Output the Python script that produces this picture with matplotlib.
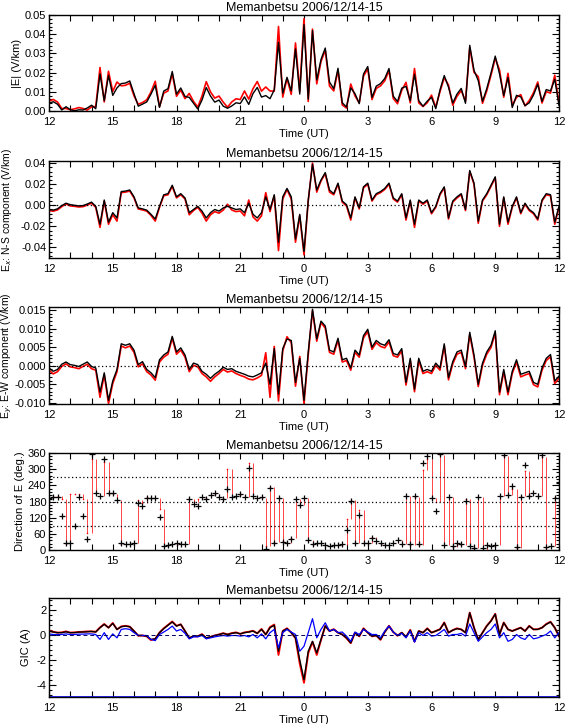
import numpy as np
import matplotlib
matplotlib.use('Agg')
import matplotlib.pyplot as plt
from matplotlib.ticker import MultipleLocator, AutoMinorLocator, FormatStrFormatter

plt.rcParams['axes.unicode_minus'] = False
plt.rcParams['font.family'] = ['Liberation Sans', 'DejaVu Sans']

title = 'Memanbetsu 2006/12/14-15'

# time axis: hours from 12 UT on 12/14 (36 = 12 UT on 12/15), 12-minute samples
t = np.linspace(12, 36, 121)
tick_hours = [12, 15, 18, 21, 24, 27, 30, 33, 36]
tick_labels = ['12', '15', '18', '21', '0', '3', '6', '9', '12']

# Ex (N-S), V/km
ex_black = [-0.004, -0.0046, -0.0034, -0.0003, 0.002, 0.0006, 0.0, -0.0006, -0.0003, 0.0012,
            0.003, -0.001, -0.018, 0.005, -0.016, -0.007, -0.012, 0.013, 0.0135, 0.0145,
            0.008, -0.0025, -0.0034, -0.0046, -0.0086, -0.013, -0.001, 0.010, 0.011, 0.019,
            0.008, 0.011, 0.007, -0.007, -0.004, -0.001, -0.0055, -0.012, -0.007, -0.004,
            -0.0055, -0.0025, -0.001, -0.0025, -0.004, -0.0034, -0.007, 0.002, -0.0086, -0.012,
            -0.007, 0.008, -0.004, 0.010, -0.035, 0.008, 0.016, 0.008, -0.032, -0.0086,
            -0.044, 0.005, 0.039, 0.0145, 0.024, 0.031, 0.0145, 0.011, 0.021, 0.004,
            0.0006, -0.012, 0.008, -0.0025, 0.0175, 0.021, 0.005, 0.011, 0.013, 0.016,
            0.021, 0.007, 0.004, 0.011, -0.012, 0.005, -0.018, 0.005, 0.002, 0.005,
            -0.007, -0.001, 0.011, 0.0175, -0.012, 0.004, 0.008, 0.011, -0.004, 0.033,
            0.021, -0.015, 0.005, 0.011, 0.019, 0.027, -0.018, 0.008, -0.016, -0.001,
            0.008, -0.007, 0.002, -0.004, -0.007, -0.013, 0.005, 0.011, 0.010, -0.016,
            -0.001]
ex_red = [-0.005, -0.0056, -0.0044, -0.0013, 0.0012, -0.0006, -0.001, -0.0016, -0.0013, 0.0002,
          0.002, -0.002, -0.021, 0.004, -0.018, -0.009, -0.015, 0.012, 0.0125, 0.0135,
          0.007, -0.0035, -0.0044, -0.0056, -0.0096, -0.015, -0.002, 0.009, 0.010, 0.018,
          0.007, 0.010, 0.006, -0.009, -0.005, -0.002, -0.0075, -0.015, -0.009, -0.006,
          -0.0075, -0.0045, 0.001, -0.0045, -0.006, -0.0054, -0.010, 0.005, -0.011, -0.015,
          -0.010, 0.012, -0.006, 0.009, -0.043, 0.006, 0.015, 0.006, -0.035, -0.010,
          -0.047, 0.004, 0.040, 0.0125, 0.023, 0.030, 0.0125, 0.010, 0.020, 0.003,
          -0.0006, -0.014, 0.007, -0.0035, 0.0165, 0.020, 0.004, 0.010, 0.012, 0.015,
          0.020, 0.006, 0.003, 0.010, -0.014, 0.004, -0.021, 0.004, 0.001, 0.004,
          -0.008, -0.002, 0.010, 0.0165, -0.013, 0.003, 0.007, 0.010, -0.005, 0.032,
          0.020, -0.017, 0.004, 0.010, 0.018, 0.026, -0.020, 0.007, -0.018, -0.002,
          0.007, -0.008, 0.001, -0.005, -0.008, -0.014, 0.004, 0.010, 0.009, -0.018,
          -0.002]

# Ey (E-W), V/km
ey_black = [-0.0006, -0.0015, -0.001, 0.0004, 0.001, 0.0003, 0.0001, -0.0002, 0.0004, 0.001,
            -0.0002, -0.0006, -0.0071, -0.0019, -0.0093, -0.0041, -0.001, 0.0059, 0.0055, 0.0059,
            0.0042, 0.0003, 0.0011, -0.001, -0.0019, -0.0032, 0.0016, 0.0029, 0.0037, 0.0079,
            0.0037, 0.0048, 0.0029, -0.001, 0.0007, 0.0003, -0.0015, -0.0023, -0.0034, -0.0023,
            -0.0015, -0.0004, -0.001, -0.0008, -0.0015, -0.0019, -0.0023, -0.0028, -0.003, -0.0025,
            -0.0019, 0.0007, -0.005, 0.0046, -0.0076, 0.0046, 0.0072, 0.0068, -0.0045, 0.002,
            -0.0093, 0.0037, 0.0152, 0.0072, 0.012, 0.0107, 0.0042, 0.0037, 0.0074, 0.0016,
            0.002, -0.0006, 0.0042, 0.0029, 0.0081, 0.0098, 0.005, 0.0068, 0.0059, 0.0055,
            0.007, 0.0033, 0.0029, 0.0046, -0.0045, 0.002, -0.0063, 0.002, -0.0015, -0.001,
            -0.0015, 0.0007, -0.0006, 0.0059, -0.0032, 0.0011, 0.0037, 0.0042, -0.0002, 0.009,
            0.0029, -0.005, 0.0007, 0.0037, 0.0055, 0.0094, -0.0071, -0.001, -0.0071, -0.0015,
            0.0016, -0.0023, -0.0019, -0.0015, -0.0045, -0.005, -0.0006, 0.002, 0.003, -0.0041,
            -0.0028]
ey_red = [-0.0012, -0.0022, -0.0016, -0.0002, 0.0005, -0.0003, -0.0005, -0.0008, -0.0002, 0.0004,
          -0.0008, -0.0012, -0.0085, -0.0025, -0.0102, -0.0048, -0.0016, 0.0053, 0.0048, 0.0053,
          0.0036, -0.0003, 0.0005, -0.0016, -0.0025, -0.0039, 0.001, 0.0023, 0.0031, 0.0074,
          0.0031, 0.0042, 0.0023, -0.0016, 0.0001, -0.0003, -0.0021, -0.003, -0.0042, -0.003,
          -0.0021, -0.001, -0.0017, -0.0014, -0.0021, -0.0026, -0.003, -0.0036, -0.0038, -0.0033,
          -0.0026, 0.0035, -0.0085, 0.0052, -0.0095, 0.004, 0.0078, 0.0062, -0.0055, 0.0025,
          -0.0102, 0.003, 0.0148, 0.0066, 0.0116, 0.0101, 0.0036, 0.0031, 0.0068, 0.001,
          0.0014, -0.0012, 0.0036, 0.0023, 0.0075, 0.0092, 0.0044, 0.0062, 0.0052, 0.0048,
          0.0064, 0.0027, 0.0023, 0.004, -0.0052, 0.0014, -0.007, 0.0014, -0.0021, -0.0016,
          -0.0021, 0.0001, -0.0012, 0.0053, -0.0038, 0.0005, 0.0031, 0.0036, -0.0008, 0.0084,
          0.0023, -0.0056, 0.0001, 0.0031, 0.0049, 0.0088, -0.0078, -0.0016, -0.0078, -0.0021,
          0.001, -0.003, -0.0025, -0.0021, -0.0051, -0.0057, -0.0012, 0.0014, 0.0024, -0.0048,
          -0.0034]

# GIC, A
gic_black = [0.33, 0.25, 0.2, 0.2, 0.27, 0.2, 0.2, 0.25, 0.25, 0.27,
             0.3, 0.25, 0.6, 0.87, 0.6, 0.95, 0.46, 0.68, 0.73, 0.68,
             0.33, -0.03, -0.03, -0.08, -0.35, -0.3, 0.2, 0.52, 0.8, 1.06,
             0.73, 0.87, 0.33, -0.22, -0.08, -0.08, 0.05, -0.22, -0.14, -0.03,
             0.05, 0.14, 0.05, 0.14, 0.2, 0.1, 0.2, 0.25, 0.33, 0.14,
             0.46, 0.05, 0.6, 0.8, -1.3, 0.33, 0.52, 0.2, -0.22, -2.0,
             -3.6, -1.3, -0.5, -1.44, -0.35, 0.73, 0.33, 0.46, 0.2, 0.05,
             -0.22, -0.63, 0.2, -0.08, 0.52, 0.2, -0.08, -0.03, -0.35, 0.25,
             0.73, 0.25, -0.03, 0.2, -0.14, 0.4, -0.5, 0.33, 0.2, 0.52,
             0.2, 0.33, 0.46, 1.0, 0.2, 0.4, 0.52, 0.46, 0.2, 1.8,
             0.6, -0.35, 0.2, 0.73, 1.14, 1.7, 0.05, 1.0, 0.46, 0.33,
             0.46, 0.6, 0.33, 0.73, 0.46, 0.46, 0.6, 0.87, 1.06, 0.6,
             -0.08]
gic_red = [0.35, 0.27, 0.2, 0.22, 0.3, 0.2, 0.22, 0.25, 0.27, 0.3,
           0.3, 0.27, 0.62, 0.9, 0.6, 0.98, 0.46, 0.7, 0.75, 0.68,
           0.33, -0.05, -0.03, -0.1, -0.4, -0.3, 0.2, 0.55, 0.82, 1.1,
           0.75, 0.87, 0.33, -0.25, -0.08, -0.1, 0.08, -0.25, -0.14, -0.03,
           0.05, 0.16, 0.05, 0.16, 0.22, 0.1, 0.22, 0.27, 0.35, 0.14,
           0.5, 0.05, 0.65, 0.85, -1.6, 0.33, 0.55, 0.2, -0.25, -2.3,
           -3.85, -1.45, -0.55, -1.6, -0.4, 0.75, 0.33, 0.48, 0.2, 0.05,
           -0.25, -0.65, 0.2, -0.1, 0.55, 0.2, -0.1, -0.03, -0.38, 0.25,
           0.75, 0.25, -0.05, 0.2, -0.16, 0.42, -0.52, 0.33, 0.2, 0.55,
           0.2, 0.33, 0.48, 1.02, 0.2, 0.4, 0.55, 0.46, 0.2, 1.82,
           0.6, -0.38, 0.2, 0.75, 1.16, 1.72, 0.05, 1.02, 0.46, 0.33,
           0.48, 0.6, 0.33, 0.75, 0.46, 0.48, 0.6, 0.9, 1.08, 0.6,
           -0.1]
gic_blue = [0.1, 0.05, 0.05, 0.05, 0.1, 0.05, 0.05, 0.08, 0.08, 0.1,
            0.1, 0.05, -0.35, 0.2, -0.35, 0.1, -0.22, 0.46, 0.52, 0.46,
            0.2, -0.03, -0.03, -0.03, -0.35, -0.44, 0.05, 0.25, 0.46, 0.73,
            0.33, 0.46, 0.14, -0.3, -0.14, -0.14, -0.03, -0.3, -0.22, -0.14,
            -0.08, -0.03, -0.08, -0.03, -0.03, -0.08, -0.03, -0.14, 0.05, -0.22,
            0.1, -0.3, 0.2, 0.46, -1.03, 0.2, 0.46, 0.25, 0.05, -1.3,
            -0.9, 0.2, 1.33, -0.22, 0.46, 1.0, 0.33, 0.46, 0.2, 0.25,
            -0.08, -0.5, 0.25, 0.05, 0.46, 0.25, 0.05, 0.05, -0.22, 0.33,
            0.73, 0.25, -0.03, 0.14, -0.22, 0.33, -0.57, 0.2, -0.03, 0.2,
            -0.08, -0.03, 0.2, 0.46, -0.08, 0.05, 0.05, 0.14, -0.08, 0.9,
            0.2, -0.5, -0.14, 0.2, 0.46, 0.9, -0.22, 0.2, -0.5, -0.35,
            0.05, -0.22, -0.35, 0.05, -0.3, -0.22, -0.08, 0.05, 0.33, -0.22,
            0.2]

ex_b, ex_r = np.array(ex_black), np.array(ex_red)
ey_b, ey_r = np.array(ey_black), np.array(ey_red)
emag_b = np.sqrt(ex_b**2 + ey_b**2)
emag_r = np.sqrt(ex_r**2 + ey_r**2)
dir_b = np.degrees(np.arctan2(ey_b, ex_b)) % 360
dir_r = np.degrees(np.arctan2(ey_r, ex_r)) % 360

fig = plt.figure(figsize=(5.67, 7.24), dpi=100)
left, width = 49/567., 510/567.
tops = [15, 161, 307, 453, 598]
heights = [96, 97, 97, 97, 99]
# right edge of each y label, axes fraction
label_x = [-0.052, -0.068, -0.068, -0.048, -0.036]
axes = []
for top, h in zip(tops, heights):
    axes.append(fig.add_axes([left, 1 - (top + h)/724., width, h/724.]))

fs = 8


def style_axis(ax, ylab, lx, lfs=fs):
    ax.set_xlim(12, 36)
    ax.set_xticks(tick_hours)
    ax.set_xticklabels(tick_labels)
    ax.xaxis.set_minor_locator(MultipleLocator(1))
    ax.yaxis.set_minor_locator(AutoMinorLocator(5))
    ax.tick_params(which='both', direction='in', top=True, right=True, labelsize=fs, width=0.8)
    ax.tick_params(axis='x', which='both', length=4, pad=4)
    ax.tick_params(axis='y', which='major', length=5, pad=2)
    ax.tick_params(axis='y', which='minor', length=2.5)
    for s in ax.spines.values():
        s.set_linewidth(1.0)
    ax.set_title(title, fontsize=9, pad=3)
    ax.set_xlabel('Time (UT)', fontsize=fs, labelpad=2)
    ax.set_ylabel(ylab, fontsize=lfs)
    ax.yaxis.set_label_coords(lx, 0.5)


# |E|
ax = axes[0]
ax.plot(t, emag_r, color='red', lw=1.2)
ax.plot(t, emag_b, color='black', lw=1.0)
ax.set_ylim(0, 0.05)
ax.yaxis.set_major_locator(MultipleLocator(0.01))
ax.yaxis.set_major_formatter(FormatStrFormatter('%.2f'))
style_axis(ax, '|E| (V/km)', label_x[0])

# Ex
ax = axes[1]
ax.plot(t, ex_r, color='red', lw=1.2)
ax.plot(t, ex_b, color='black', lw=1.0)
ax.axhline(0, color='black', ls=(0, (1, 2)), lw=0.9)
ax.set_ylim(-0.05, 0.042)
ax.set_yticks([-0.04, -0.02, 0.0, 0.02, 0.04])
ax.yaxis.set_major_formatter(FormatStrFormatter('%.2f'))
style_axis(ax, 'E$_x$: N-S component (V/km)', label_x[1], 7.5)

# Ey
ax = axes[2]
ax.plot(t, ey_r, color='red', lw=1.2)
ax.plot(t, ey_b, color='black', lw=1.0)
ax.axhline(0, color='black', ls=(0, (1, 2)), lw=0.9)
ax.set_ylim(-0.0103, 0.0158)
ax.set_yticks([-0.010, -0.005, 0.0, 0.005, 0.010, 0.015])
ax.yaxis.set_major_formatter(FormatStrFormatter('%.3f'))
style_axis(ax, 'E$_y$: E-W component (V/km)', label_x[2], 7.5)

# direction: red streaks where the fast series swings between samples
ax = axes[3]
ax.vlines(t[1:], np.minimum(dir_r[:-1], dir_r[1:]), np.maximum(dir_r[:-1], dir_r[1:]),
          color='red', lw=0.6, alpha=0.85)
ax.scatter(t, dir_r, s=5, color='red', marker='.', linewidths=0)
ax.scatter(t, dir_b, s=16, color='black', marker='+', linewidths=0.9, zorder=3)
for lev in [90, 180, 270]:
    ax.axhline(lev, color='black', ls=(0, (1, 2)), lw=0.9)
ax.set_ylim(0, 360)
ax.set_yticks(np.arange(0, 361, 60))
style_axis(ax, 'Direction of E (deg.)', label_x[3])

# GIC
ax = axes[4]
ax.plot(t, gic_red, color='red', lw=1.4)
ax.plot(t, gic_black, color='black', lw=1.0)
ax.plot(t, gic_blue, color='blue', lw=0.9)
ax.axhline(0, color='#000060', ls=(0, (4, 3)), lw=0.7)
ax.axhline(-4.97, color='blue', lw=1.2)
ax.set_ylim(-5, 3)
ax.set_yticks([-4, -2, 0, 2])
style_axis(ax, 'GIC (A)', label_x[4])

fig.savefig('out.png', dpi=100)
